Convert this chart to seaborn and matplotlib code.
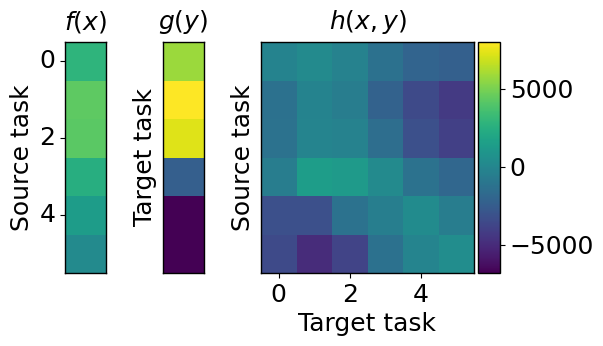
import numpy as np
import pandas as pd
import matplotlib
matplotlib.use("Agg")
import matplotlib.pyplot as plt
import seaborn as sns

vmin, vmax = -6800, 8000

f_vals = [2800, 4300, 4200, 2500, 1300, 200]
g_vals = [5800, 8000, 7300, -2400, -6800, -6800]
h_vals = [
    [-200, 200, -300, -1300, -2100, -2300],
    [-1300, -200, -600, -2200, -3500, -4300],
    [-1200, -100, -300, -1500, -3200, -4000],
    [-600, 1400, 1200, 200, -1200, -1900],
    [-3200, -3200, -1200, -500, 300, -600],
    [-3500, -5000, -3800, -1300, -100, 400],
]
tick_pos = [0, 2, 4]
tick_labels = ["0", "2", "4"]

plt.rcParams["font.size"] = 18
W, H = 603, 346
fig = plt.figure(figsize=(W / 100, H / 100), dpi=100)

def ax_px(x0, x1, y0, y1):
    return fig.add_axes([x0 / W, 1 - y1 / H, (x1 - x0) / W, (y1 - y0) / H])

ax_f = ax_px(65, 106, 42, 273)
ax_g = ax_px(163, 204, 42, 273)
ax_h = ax_px(261, 474, 42, 273)
ax_c = ax_px(478, 500, 42, 273)

kw = dict(cmap="viridis", vmin=vmin, vmax=vmax)
sns.heatmap(pd.DataFrame({"f": f_vals}), ax=ax_f, cbar=False, **kw)
sns.heatmap(pd.DataFrame({"g": g_vals}), ax=ax_g, cbar=False, **kw)
sns.heatmap(pd.DataFrame(h_vals), ax=ax_h, cbar=True, cbar_ax=ax_c, **kw)

for ax in (ax_f, ax_g, ax_h):
    for s in ax.spines.values():
        s.set_visible(True)
        s.set_color("black")
        s.set_linewidth(1)
    ax.set_xlabel("")
    ax.set_ylabel("")

ax_f.set_xticks([])
ax_f.set_yticks([p + 0.5 for p in tick_pos])
ax_f.set_yticklabels(tick_labels, rotation=0)
ax_f.set_ylabel("Source task")
ax_f.set_title("$f(x)$", fontsize=18, pad=9)

ax_g.set_xticks([])
ax_g.set_yticks([])
ax_g.set_ylabel("Target task")
ax_g.set_title("$g(y)$", fontsize=18, pad=9)

ax_h.set_xticks([p + 0.5 for p in tick_pos])
ax_h.set_xticklabels(tick_labels, rotation=0)
ax_h.set_yticks([])
ax_h.set_ylabel("Source task")
ax_h.set_xlabel("Target task")
ax_h.set_title("$h(x, y)$", fontsize=18, pad=9)

for ax in (ax_f, ax_h):
    ax.tick_params(length=3.5, width=0.8)

cb = ax_h.collections[0].colorbar
cb.set_ticks([-5000, 0, 5000])
cb.ax.tick_params(labelsize=18, length=3.5, width=0.8)
cb.outline.set_visible(True)
cb.outline.set_edgecolor("black")
cb.outline.set_linewidth(1)

fig.savefig("out.png", dpi=100)
